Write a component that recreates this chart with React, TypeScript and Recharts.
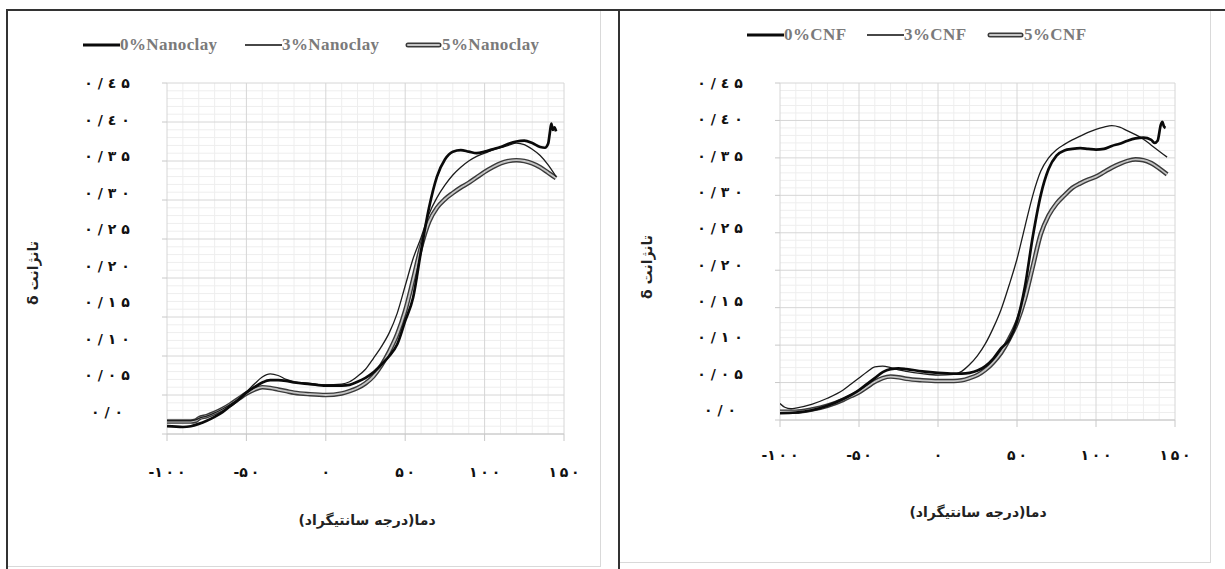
import React from "react";
import { LineChart, Line, XAxis, YAxis, CartesianGrid } from "recharts";

// axis ticks and their Persian labels
const xTicks = [-100, -50, 0, 50, 100, 150];
const xTickLabels = ["-۱۰۰", "-۵۰", "۰", "۵۰", "۱۰۰", "۱۵۰"];
const yTicks = [0, 0.05, 0.1, 0.15, 0.2, 0.25, 0.3, 0.35, 0.4, 0.45];
const yTickLabels = ["۰/۰", "۰/۰۵", "۰/۱۰", "۰/۱۵", "۰/۲۰", "۰/۲۵", "۰/۳۰", "۰/۳۵", "۰/٤۰", "۰/٤۵"];
const xMinor = [-90, -80, -70, -60, -40, -30, -20, -10, 10, 20, 30, 40, 60, 70, 80, 90, 110, 120, 130, 140];
const yMinor = [
  0.01, 0.02, 0.03, 0.04, 0.06, 0.07, 0.08, 0.09, 0.11, 0.12, 0.13, 0.14, 0.16, 0.17, 0.18, 0.19,
  0.21, 0.22, 0.23, 0.24, 0.26, 0.27, 0.28, 0.29, 0.31, 0.32, 0.33, 0.34, 0.36, 0.37, 0.38, 0.39,
  0.41, 0.42, 0.43, 0.44,
];

const xTitle = "دما(درجه سانتیگراد)";
const yTitle = "تانژانت δ";

// ---- Nanoclay panel ----
const clayTemp0 = [
  -100, -90, -85, -80, -75, -70, -65, -60, -55, -50, -45, -40, -35, -30, -25, -20, -10, 0, 10, 15,
  20, 25, 30, 35, 40, 45, 50, 55, 60, 65, 70, 75, 80, 85, 90, 95, 100, 105, 110, 115, 120, 125, 130,
  135, 138, 140, 141, 142, 143, 144, 145,
];
const clay0 = [
  0.01, 0.009, 0.01, 0.013, 0.017, 0.022, 0.028, 0.036, 0.044, 0.053, 0.06, 0.066, 0.069, 0.069,
  0.068, 0.066, 0.064, 0.062, 0.062, 0.063, 0.067, 0.072, 0.079, 0.089, 0.1, 0.115, 0.145, 0.175,
  0.235, 0.29, 0.33, 0.352, 0.362, 0.364, 0.362, 0.36, 0.362, 0.365, 0.368, 0.372, 0.375, 0.376,
  0.373, 0.368, 0.367, 0.372, 0.385, 0.398, 0.39, 0.393, 0.388,
];
const clayTemp = [
  -100, -90, -85, -82, -80, -75, -70, -65, -60, -55, -50, -45, -40, -35, -30, -25, -20, -10, 0, 10,
  15, 20, 25, 30, 35, 40, 45, 50, 55, 60, 65, 70, 75, 80, 85, 90, 95, 100, 105, 110, 115, 120, 125,
  130, 135, 140, 145,
];
const clay3 = [
  0.017, 0.017, 0.017, 0.018, 0.02, 0.023, 0.027, 0.032, 0.038, 0.045, 0.054, 0.064, 0.073, 0.077,
  0.075, 0.07, 0.067, 0.065, 0.063, 0.064, 0.067, 0.074, 0.083, 0.097, 0.112, 0.13, 0.155, 0.19,
  0.225, 0.252, 0.282, 0.303, 0.319, 0.332, 0.342, 0.35, 0.356, 0.36, 0.364, 0.367, 0.37, 0.373,
  0.371, 0.365, 0.357, 0.345, 0.33,
];
const clay5 = [
  0.016, 0.016, 0.016, 0.017, 0.02, 0.023, 0.027, 0.032, 0.038, 0.045, 0.052, 0.057, 0.06, 0.059,
  0.057, 0.055, 0.053, 0.051, 0.05, 0.052, 0.055, 0.059, 0.065, 0.074, 0.088, 0.106, 0.128, 0.158,
  0.198, 0.24, 0.272, 0.29, 0.301, 0.309, 0.316, 0.322, 0.329, 0.336, 0.342, 0.347, 0.35, 0.351,
  0.35, 0.347, 0.342, 0.335, 0.328,
];

// ---- CNF panel ----
const cnfTemp0 = [
  -100, -90, -80, -70, -60, -50, -45, -40, -35, -30, -25, -20, -10, 0, 10, 15, 20, 25, 30, 35, 40,
  45, 50, 55, 60, 65, 70, 75, 80, 85, 90, 95, 100, 105, 110, 115, 120, 125, 130, 135, 137, 139, 141,
  142, 143, 144,
];
const cnf0 = [
  0.009, 0.01, 0.013, 0.019, 0.028, 0.04, 0.048, 0.056, 0.064, 0.068, 0.069, 0.068, 0.065, 0.063,
  0.062, 0.062, 0.063, 0.066, 0.072, 0.082, 0.096, 0.107, 0.132, 0.178, 0.245, 0.3, 0.335, 0.353,
  0.36, 0.362, 0.363, 0.362, 0.361, 0.362, 0.366, 0.369, 0.373, 0.376, 0.377, 0.374, 0.37, 0.373,
  0.394, 0.398, 0.392, 0.39,
];
const cnfTemp = [
  -100, -97, -93, -90, -80, -70, -60, -55, -50, -45, -40, -35, -30, -25, -20, -10, 0, 10, 15, 20, 25,
  30, 35, 40, 45, 50, 55, 60, 65, 70, 75, 80, 85, 90, 95, 100, 105, 110, 115, 120, 125, 130, 135,
  140, 145,
];
const cnf3 = [
  0.022, 0.017, 0.015, 0.016, 0.021, 0.029, 0.04, 0.048, 0.056, 0.064, 0.071, 0.072, 0.07, 0.067,
  0.065, 0.062, 0.06, 0.061, 0.065, 0.074, 0.086, 0.102, 0.123, 0.148, 0.18, 0.215, 0.258, 0.3,
  0.332, 0.35, 0.361, 0.368, 0.374, 0.379, 0.384, 0.388, 0.391, 0.393, 0.391, 0.386, 0.381, 0.375,
  0.367, 0.359, 0.351,
];
const cnf5 = [
  0.011, 0.011, 0.011, 0.011, 0.014, 0.019, 0.027, 0.032, 0.037, 0.044, 0.051, 0.056, 0.058, 0.057,
  0.055, 0.053, 0.052, 0.052, 0.053, 0.056, 0.06, 0.067, 0.077, 0.09, 0.108, 0.13, 0.162, 0.205,
  0.248, 0.273, 0.289, 0.3, 0.31, 0.316, 0.321, 0.325, 0.331, 0.337, 0.342, 0.346, 0.348, 0.347,
  0.343, 0.336, 0.328,
];

const toPoints = (temps: number[], vals: number[]) => temps.map((t, i) => ({ t, v: vals[i] }));

const GRID_MAJOR = "#d6d6d6";
const GRID_MINOR = "#eeeeee";
const TICK_FONT = "'DejaVu Sans', sans-serif";

// chrome ignores letter-spacing on arabic digits, so the gaps are spaces
const spaced = (s: string, gap: string) => s.split("").join(gap);

function XTick(props: any) {
  const { x, y, payload, offset } = props;
  const label = xTickLabels[xTicks.indexOf(payload.value)];
  return (
    <text x={x} y={y + offset} textAnchor="middle" dominantBaseline="central" fontFamily={TICK_FONT}
      fontWeight="bold" fontSize={14} fill="#111" direction="ltr">
      {spaced(label, "\u2009").replace("-\u2009", "-")}
    </text>
  );
}

// the original's value labels drift slightly off their gridlines; squeeze mimics that
function YTick(props: any) {
  const { y, payload, cx, top, squeeze } = props;
  const label = yTickLabels[yTicks.indexOf(payload.value)];
  return (
    <text x={cx} y={top + (y - top) * squeeze} textAnchor="middle" dominantBaseline="central"
      fontFamily={TICK_FONT} fontWeight="bold" fontSize={14} fill="#111" direction="ltr">
      {spaced(label, " ")}
    </text>
  );
}

interface PanelProps {
  left: number;
  width: number;
  plotLeft: number;
  plotRight: number;
  plotBottom: number;
  xLabelOffset: number;
  squeeze: number;
  s0: { t: number; v: number }[];
  s3: { t: number; v: number }[];
  s5: { t: number; v: number }[];
}

function Panel(p: PanelProps) {
  const top = 83;
  const height = 569;
  const xAxisH = 40;
  return (
    <div style={{ position: "absolute", left: p.left, top: 0, width: p.width, height }}>
      <LineChart
        width={p.width}
        height={height}
        margin={{ top, right: p.width - p.plotRight, left: 0, bottom: height - p.plotBottom - xAxisH }}
      >
        <CartesianGrid stroke={GRID_MINOR} horizontalValues={yMinor} verticalValues={xMinor} />
        <CartesianGrid stroke={GRID_MAJOR} />
        <XAxis
          type="number"
          dataKey="t"
          domain={[-100, 150]}
          ticks={xTicks}
          height={xAxisH}
          interval={0}
          tickSize={7}
          tickMargin={0}
          stroke="#c8c8c8"
          tick={(tp: any) => <XTick {...tp} offset={p.xLabelOffset} />}
          allowDataOverflow
        />
        <YAxis
          type="number"
          dataKey="v"
          domain={[0, 0.45]}
          ticks={yTicks}
          width={p.plotLeft}
          interval={0}
          tickSize={5}
          axisLine={false}
          stroke="#c8c8c8"
          tick={(tp: any) => <YTick {...tp} cx={p.plotLeft - 60} top={top} squeeze={p.squeeze} />}
        />
        <Line data={p.s5} dataKey="v" type="monotone" stroke="#3a3a3a" strokeWidth={4.6} dot={false} isAnimationActive={false} />
        <Line data={p.s5} dataKey="v" type="monotone" stroke="#c4c4c4" strokeWidth={1.8} dot={false} isAnimationActive={false} />
        <Line data={p.s3} dataKey="v" type="monotone" stroke="#1c1c1c" strokeWidth={1.3} dot={false} isAnimationActive={false} />
        <Line data={p.s0} dataKey="v" type="monotone" stroke="#0a0a0a" strokeWidth={2.7} dot={false} isAnimationActive={false} />
      </LineChart>
    </div>
  );
}

function LegendIcon({ kind }: { kind: number }) {
  return (
    <svg width={37} height={10} style={{ display: "block" }}>
      {kind === 5 ? (
        <>
          <line x1={3} y1={5} x2={34} y2={5} stroke="#3a3a3a" strokeWidth={5} strokeLinecap="round" />
          <line x1={3} y1={5} x2={34} y2={5} stroke="#c4c4c4" strokeWidth={2} strokeLinecap="round" />
        </>
      ) : (
        <line x1={0} y1={5} x2={37} y2={5} stroke="#0a0a0a" strokeWidth={kind === 0 ? 3 : 1.3} />
      )}
    </svg>
  );
}

function Legend({ items, lefts, y }: { items: string[]; lefts: number[]; y: number }) {
  return (
    <>
      {items.map((name, i) => (
        <div key={name} style={{ position: "absolute", left: lefts[i], top: y - 10, height: 20, display: "flex", alignItems: "center" }}>
          <LegendIcon kind={[0, 3, 5][i]} />
          <span style={{ fontFamily: "'Liberation Serif', serif", fontWeight: "bold", fontSize: 17, letterSpacing: 0.4, color: "#7a7a7a", whiteSpace: "nowrap" }}>
            {name}
          </span>
        </div>
      ))}
    </>
  );
}

const titleStyle: React.CSSProperties = {
  position: "absolute",
  fontFamily: "'DejaVu Sans', sans-serif",
  fontWeight: "bold",
  fontSize: 14,
  color: "#222",
  whiteSpace: "nowrap",
  transform: "translate(-50%, -50%)",
};

export default function App() {
  return (
    <div style={{ position: "absolute", left: 0, top: 0, width: 1225, height: 569, background: "#fff", overflow: "hidden" }}>
      {/* page frame */}
      <div style={{ position: "absolute", left: 6, top: 9, width: 1219, height: 2, background: "#333" }} />
      <div style={{ position: "absolute", left: 6, top: 9, width: 2, height: 560, background: "#333" }} />
      <div style={{ position: "absolute", left: 618, top: 9, width: 2, height: 560, background: "#333" }} />
      <div style={{ position: "absolute", left: 600, top: 11, width: 1, height: 556, background: "#d9d9d9" }} />
      <div style={{ position: "absolute", left: 8, top: 566, width: 593, height: 1, background: "#d9d9d9" }} />
      <div style={{ position: "absolute", left: 1210, top: 11, width: 1, height: 551, background: "#d9d9d9" }} />
      <div style={{ position: "absolute", left: 620, top: 562, width: 591, height: 1, background: "#d9d9d9" }} />

      <Panel left={0} width={612} plotLeft={167} plotRight={564} plotBottom={434} xLabelOffset={31} squeeze={0.937}
        s0={toPoints(clayTemp0, clay0)} s3={toPoints(clayTemp, clay3)} s5={toPoints(clayTemp, clay5)} />
      <Panel left={612} width={613} plotLeft={168} plotRight={563} plotBottom={420} xLabelOffset={28} squeeze={0.97}
        s0={toPoints(cnfTemp0, cnf0)} s3={toPoints(cnfTemp, cnf3)} s5={toPoints(cnfTemp, cnf5)} />

      <Legend items={["0%Nanoclay", "3%Nanoclay", "5%Nanoclay"]} lefts={[83, 245, 405]} y={45} />
      <Legend items={["0%CNF", "3%CNF", "5%CNF"]} lefts={[747, 867, 987]} y={35} />

      <div dir="rtl" style={{ ...titleStyle, left: 367, top: 520 }}>{xTitle}</div>
      <div dir="rtl" style={{ ...titleStyle, left: 978, top: 512 }}>{xTitle}</div>
      <div dir="rtl" style={{ ...titleStyle, left: 33, top: 273, transform: "translate(-50%, -50%) rotate(-90deg)" }}>{yTitle}</div>
      <div dir="rtl" style={{ ...titleStyle, left: 647, top: 267, transform: "translate(-50%, -50%) rotate(-90deg)" }}>{yTitle}</div>
    </div>
  );
}
